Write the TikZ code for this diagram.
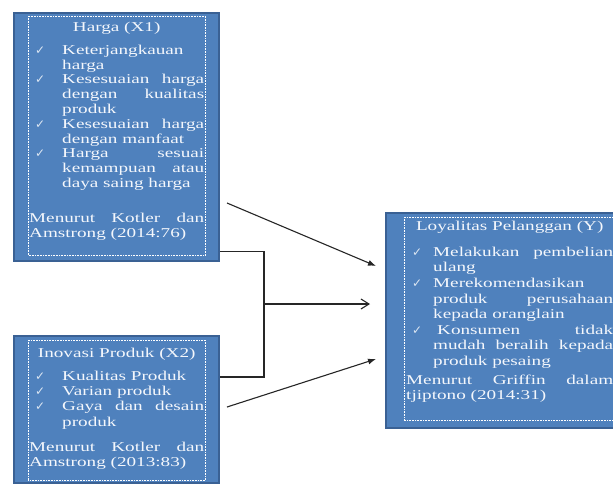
\documentclass[tikz,border=0pt]{standalone}
\usepackage{fontspec}
\setmainfont{Liberation Serif}[FakeStretch=1.42]
\newfontfamily\checkfont{DejaVu Sans}
\usetikzlibrary{arrows.meta}
\definecolor{panelblue}{HTML}{4F81BD}
\definecolor{paneledge}{HTML}{3A6194}
\definecolor{paneltext}{HTML}{F4F7FC}
\definecolor{checkblue}{HTML}{DCE6F2}
\hyphenpenalty=10000
\exhyphenpenalty=10000
\hbadness=10000
\newcommand{\chkitem}[2][33pt]{\par\noindent\hangindent=#1\hangafter=1\makebox[#1][l]{\hspace{6pt}{\checkfont\fontsize{12}{12}\selectfont\color{checkblue}✓}}#2}
\newcommand{\paneltitle}[1]{{\centering\vrule height 11pt width 0pt #1\par}}

\begin{document}
\begin{tikzpicture}[
    x=1pt, y=-1pt,
    panel/.style={draw=paneledge, line width=2.4pt, fill=panelblue, anchor=north west, inner sep=0pt},
    frame/.style={draw=white, line width=0.7pt, dash pattern=on 0.7pt off 0.9pt},
    panetext/.style={anchor=north west, inner sep=0pt, text=paneltext, align=justify,
        font={\fontsize{13.5}{#1}\selectfont}},
    link/.style={line width=1.1pt, black!85},
    flowfill/.style={link, -{Latex[length=8pt, width=6pt]}},
    flowopen/.style={link, -{Straight Barb[length=8pt, width=10pt]}}
]
\useasboundingbox (0,0) rectangle (613,483);
\clip (0,0) rectangle (613,483);
\fill[white] (0,0) rectangle (613,483);

\node[panel, minimum width=205pt, minimum height=248pt] (harga) at (13,12) {};
\node[panel, minimum width=205pt, minimum height=147pt] (inovasi) at (13,335) {};
\node[panel, minimum width=250pt, minimum height=215pt] (loyal) at (385,212) {};

\draw[frame] ([xshift=15pt,yshift=-4pt]harga.north west) rectangle ([xshift=-15pt,yshift=7pt]harga.south east);
\draw[frame] ([xshift=15pt,yshift=-5pt]inovasi.north west) rectangle ([xshift=-15pt,yshift=4pt]inovasi.south east);
\draw[frame] ([xshift=19pt,yshift=-5pt]loyal.north west) rectangle ([xshift=-7pt,yshift=9pt]loyal.south east);

\node[panetext=14.8, text width=175pt] (hargatext) at (29,20) {%
\paneltitle{Harga (X1)}
\vspace{8.2pt}
\chkitem{Keterjangkauan\linebreak harga}
\chkitem{Kesesuaian~harga\linebreak dengan~kualitas\linebreak produk}
\chkitem{Kesesuaian~harga\linebreak dengan~manfaat}
\chkitem{Harga~sesuai\linebreak kemampuan~atau\linebreak daya~saing~harga}
\par\vspace{20.2pt}
\noindent Menurut~Kotler~dan\linebreak Amstrong~(2014:76)\par};

\node[panetext=15.3, text width=175pt] (inovasitext) at (29,346) {%
\paneltitle{Inovasi Produk (X2)}
\vspace{7.7pt}
\chkitem{Kualitas~Produk}
\chkitem{Varian~produk}
\chkitem{Gaya~dan~desain\linebreak produk}
\par\vspace{9.8pt}
\noindent Menurut~Kotler~dan\linebreak Amstrong~(2013:83)\par};

\node[panetext=15.6, text width=207pt] (loyaltext) at (406,219) {%
\paneltitle{Loyalitas Pelanggan (Y)}
\vspace{10.4pt}
\chkitem[27pt]{Melakukan~pembelian\linebreak ulang}
\chkitem[27pt]{Merekomendasikan\linebreak produk~perusahaan\linebreak kepada~oranglain}
\chkitem[27pt]{\hspace{4pt}Konsumen~tidak\linebreak mudah~beralih~kepada\linebreak produk~pesaing}
\par\vspace{3.2pt}
\noindent Menurut~Griffin~dalam\linebreak tjiptono~(2014:31)\par};

\coordinate (hargaout) at (227,203);
\coordinate (hargain) at (376,266);
\coordinate (inovout) at (227,407);
\coordinate (inovin) at (376,359);
\coordinate (join) at (264,304);
\coordinate (joinin) at (370,304);

\draw[flowfill] (hargaout) -- (hargain);
\draw[flowfill] (inovout) -- (inovin);
\draw[link] ([yshift=11pt]harga.south east) -| (join);
\draw[link] (join) |- ([yshift=-42pt]inovasi.north east);
\draw[flowopen] (join) -- (joinin);
\end{tikzpicture}
\end{document}
